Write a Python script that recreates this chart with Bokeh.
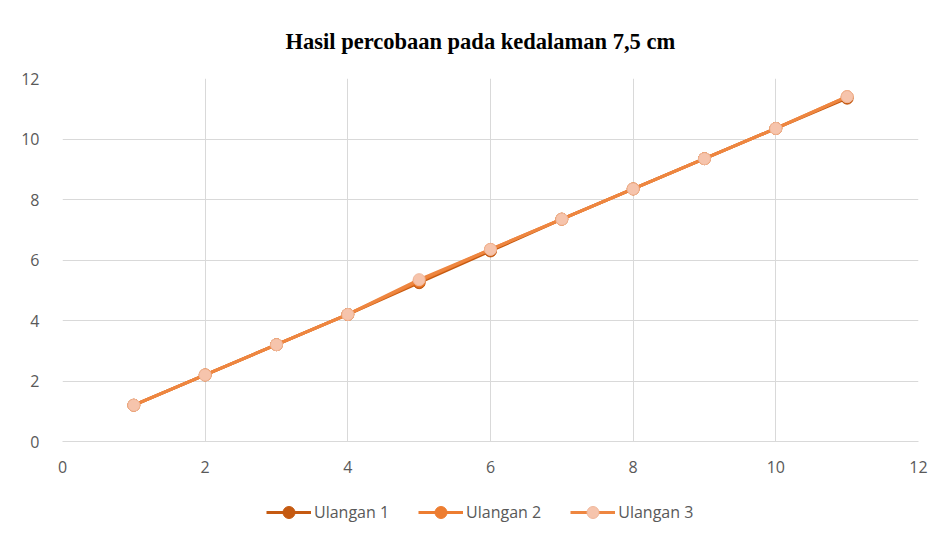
from bokeh.plotting import figure
from bokeh.layouts import column
from bokeh.models import Range1d, FixedTicker, Legend, LegendItem
from bokeh.embed import file_html
from bokeh.resources import INLINE

x = [1, 2, 3, 4, 5, 6, 7, 8, 9, 10, 11]
ulangan1 = [1.2, 2.2, 3.2, 4.2, 5.25, 6.3, 7.35, 8.35, 9.35, 10.35, 11.35]
ulangan2 = [1.2, 2.2, 3.2, 4.2, 5.3, 6.35, 7.35, 8.35, 9.35, 10.35, 11.4]
ulangan3 = [1.2, 2.2, 3.2, 4.2, 5.35, 6.35, 7.35, 8.35, 9.35, 10.35, 11.4]
series_names = ["Ulangan 1", "Ulangan 2", "Ulangan 3"]
ticks = [0, 2, 4, 6, 8, 10, 12]

p = figure(width=936, height=478, output_backend="svg", toolbar_location=None,
           x_range=Range1d(0, 12), y_range=Range1d(0, 12),
           min_border_left=62, min_border_right=18, min_border_top=78, min_border_bottom=37,
           border_fill_color="white")

p.title.text = "Hasil percobaan pada kedalaman 7,5 cm"
p.title.align = "left"
p.title.offset = 223
p.title.text_font = "Liberation Serif"
p.title.text_font_size = "22.5px"
p.title.text_font_style = "bold"
p.title.text_color = "#000000"
p.title.standoff = 50

p.outline_line_color = None
for ax in (p.xaxis, p.yaxis):
    ax.ticker = FixedTicker(ticks=ticks)
    ax.major_tick_line_color = None
    ax.minor_tick_line_color = None
    ax.major_label_text_color = "#595959"
    ax.major_label_text_font = "Open Sans"
    ax.major_label_text_font_size = "16px"
p.xaxis.axis_line_color = "#D9D9D9"
p.yaxis.axis_line_color = None
p.xaxis.major_label_standoff = 13
p.yaxis.major_label_standoff = 17
p.xgrid.ticker = FixedTicker(ticks=ticks)
p.ygrid.ticker = FixedTicker(ticks=ticks)
p.xgrid.grid_line_color = "#D9D9D9"
p.ygrid.grid_line_color = "#D9D9D9"

c1, c2, c3l, c3m, c3e = "#C55A11", "#ED7D31", "#EE8640", "#F6C4AC", "#F0B89C"
p.line(x, ulangan1, line_color=c1, line_width=3)
p.scatter(x, ulangan1, size=12, fill_color=c1, line_color=c1)
p.line(x, ulangan2, line_color=c2, line_width=3)
p.scatter(x, ulangan2, size=12, fill_color=c2, line_color=c2)
p.line(x, ulangan3, line_color=c3l, line_width=3)
p.scatter(x, ulangan3, size=12, fill_color=c3m, line_color=c3e)

# legend strip below the chart (proxy renderers lie outside its visible range)
lp = figure(width=936, height=54, output_backend="svg", toolbar_location=None,
            x_range=Range1d(0, 1), y_range=Range1d(0, 1),
            x_axis_location=None, y_axis_location=None,
            min_border_left=0, min_border_right=0, min_border_top=0, min_border_bottom=0,
            border_fill_color="white")
lp.outline_line_color = None
lp.xgrid.visible = False
lp.ygrid.visible = False
items = []
for name, lc, fc, ec in zip(series_names, [c1, c2, c3l], [c1, c2, c3m], [c1, c2, c3e]):
    rl = lp.line([-5, -4], [-5, -4], line_color=lc, line_width=3)
    rm = lp.scatter([-5], [-5], size=12, fill_color=fc, line_color=ec)
    items.append(LegendItem(label=name, renderers=[rl, rm]))
legend = Legend(items=items, orientation="horizontal", location=(204, 5),
                border_line_color=None, background_fill_alpha=0,
                label_text_font="Open Sans", label_text_font_size="16px",
                label_text_color="#595959", glyph_width=45, glyph_height=30,
                label_height=20, spacing=29,
                label_standoff=3, padding=4, margin=0)
lp.add_layout(legend, "center")

open("out.html", "w").write(file_html(column(p, lp, spacing=0), INLINE))
